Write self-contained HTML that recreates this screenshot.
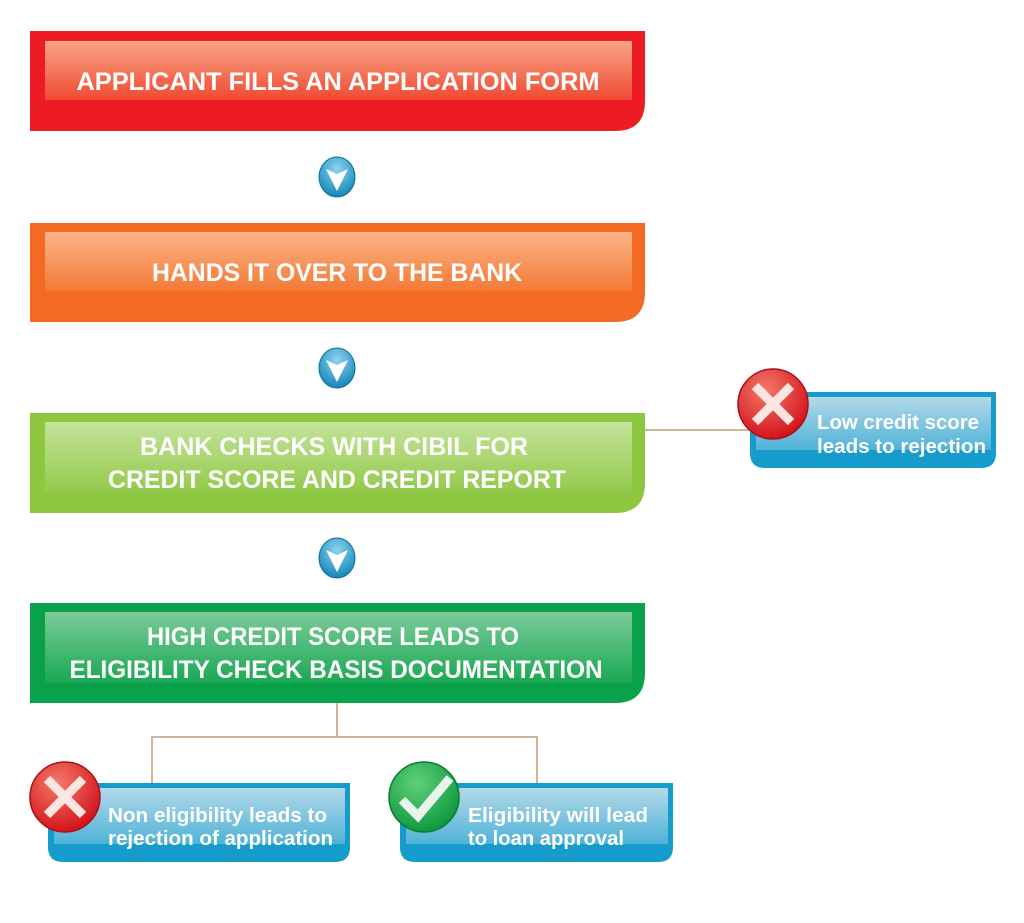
<!DOCTYPE html>
<html><head><meta charset="utf-8"><style>
html,body{margin:0;padding:0;background:#fff;width:1024px;height:923px;overflow:hidden}
svg text{font-family:"Liberation Sans",sans-serif;font-weight:bold;fill:#fff}
</style></head><body>
<svg width="1024" height="923" viewBox="0 0 1024 923" xmlns="http://www.w3.org/2000/svg">
<defs>
<linearGradient id="gr" x1="0" y1="0" x2="0" y2="1"><stop offset="0" stop-color="#f7a585"/><stop offset="1" stop-color="#f04a32"/></linearGradient>
<linearGradient id="go" x1="0" y1="0" x2="0" y2="1"><stop offset="0" stop-color="#fab487"/><stop offset="1" stop-color="#f37a36"/></linearGradient>
<linearGradient id="gl" x1="0" y1="0" x2="0" y2="1"><stop offset="0" stop-color="#c4e39a"/><stop offset="1" stop-color="#93c94a"/></linearGradient>
<linearGradient id="gd" x1="0" y1="0" x2="0" y2="1"><stop offset="0" stop-color="#7ccb98"/><stop offset="1" stop-color="#1aa854"/></linearGradient>
<linearGradient id="gb" x1="0" y1="0" x2="0" y2="1"><stop offset="0" stop-color="#b3d9e8"/><stop offset="1" stop-color="#4fb3d8"/></linearGradient>
<radialGradient id="ga" cx="0.5" cy="0.3" r="0.7"><stop offset="0" stop-color="#8fd3ee"/><stop offset="1" stop-color="#1386b8"/></radialGradient>
<radialGradient id="gx" cx="0.4" cy="0.3" r="0.7"><stop offset="0" stop-color="#f47a6a"/><stop offset="1" stop-color="#d3141c"/></radialGradient>
<radialGradient id="gc" cx="0.4" cy="0.3" r="0.7"><stop offset="0" stop-color="#5fcf7a"/><stop offset="1" stop-color="#0f9a40"/></radialGradient>
</defs>

<!-- connectors -->
<g stroke="#cbb89a" stroke-width="2" fill="none">
<line x1="645" y1="430" x2="750" y2="430"/>
<polyline points="337,703 337,737"/>
<polyline points="152,783 152,737 537,737 537,783"/>
</g>

<!-- main boxes -->
<path d="M30 31 H645 V101 Q645 131 615 131 H30 Z" fill="#ed1c24"/>
<rect x="45" y="41" width="587" height="59" fill="url(#gr)"/>
<text x="338" y="90" font-size="25" text-anchor="middle" textLength="523" lengthAdjust="spacingAndGlyphs">APPLICANT FILLS AN APPLICATION FORM</text>

<path d="M30 223 H645 V292 Q645 322 615 322 H30 Z" fill="#f26a23"/>
<rect x="45" y="232" width="587" height="59" fill="url(#go)"/>
<text x="337" y="281" font-size="25" text-anchor="middle" textLength="370" lengthAdjust="spacingAndGlyphs">HANDS IT OVER TO THE BANK</text>

<path d="M30 413 H645 V483 Q645 513 615 513 H30 Z" fill="#8dc63f"/>
<rect x="45" y="422" width="587" height="71" fill="url(#gl)"/>
<text x="334" y="455" font-size="25" text-anchor="middle" textLength="388" lengthAdjust="spacingAndGlyphs">BANK CHECKS WITH CIBIL FOR</text>
<text x="337" y="488" font-size="25" text-anchor="middle" textLength="458" lengthAdjust="spacingAndGlyphs">CREDIT SCORE AND CREDIT REPORT</text>

<path d="M30 603 H645 V673 Q645 703 615 703 H30 Z" fill="#0aa14b"/>
<rect x="45" y="612" width="587" height="71" fill="url(#gd)"/>
<text x="333" y="645" font-size="25" text-anchor="middle" textLength="372" lengthAdjust="spacingAndGlyphs">HIGH CREDIT SCORE LEADS TO</text>
<text x="336" y="678" font-size="25" text-anchor="middle" textLength="533" lengthAdjust="spacingAndGlyphs">ELIGIBILITY CHECK BASIS DOCUMENTATION</text>

<!-- arrows -->
<g>
<ellipse cx="337" cy="177" rx="18" ry="20" fill="url(#ga)" stroke="#0f6f99" stroke-width="1"/>
<path d="M326 169 L337 174 L348 169 L337 191 Z" fill="#fff"/>
<ellipse cx="337" cy="368" rx="18" ry="20" fill="url(#ga)" stroke="#0f6f99" stroke-width="1"/>
<path d="M326 360 L337 365 L348 360 L337 382 Z" fill="#fff"/>
<ellipse cx="337" cy="558" rx="18" ry="20" fill="url(#ga)" stroke="#0f6f99" stroke-width="1"/>
<path d="M326 550 L337 555 L348 550 L337 572 Z" fill="#fff"/>
</g>

<!-- callouts -->
<path d="M750 392 H996 V453 Q996 468 981 468 H765 Q750 468 750 453 Z" fill="#159bcc"/>
<rect x="756" y="397" width="235" height="53" fill="url(#gb)"/>
<text x="817" y="429" font-size="20" textLength="162" lengthAdjust="spacingAndGlyphs">Low credit score</text>
<text x="817" y="453" font-size="20" textLength="169" lengthAdjust="spacingAndGlyphs">leads to rejection</text>
<circle cx="773" cy="404" r="35" fill="url(#gx)" stroke="#a8101a" stroke-width="1.5"/>
<path d="M755 386 L791 422 M791 386 L755 422" stroke="#fde6e0" stroke-width="9" stroke-linecap="butt"/>

<path d="M48 783 H350 V847 Q350 862 335 862 H63 Q48 862 48 847 Z" fill="#159bcc"/>
<rect x="54" y="788" width="291" height="56" fill="url(#gb)"/>
<text x="108" y="822" font-size="20" textLength="219" lengthAdjust="spacingAndGlyphs">Non eligibility leads to</text>
<text x="108" y="845" font-size="20" textLength="225" lengthAdjust="spacingAndGlyphs">rejection of application</text>
<circle cx="65" cy="797" r="35" fill="url(#gx)" stroke="#a8101a" stroke-width="1.5"/>
<path d="M47 779 L83 815 M83 779 L47 815" stroke="#fde6e0" stroke-width="9"/>

<path d="M400 783 H673 V847 Q673 862 658 862 H415 Q400 862 400 847 Z" fill="#159bcc"/>
<rect x="406" y="788" width="262" height="56" fill="url(#gb)"/>
<text x="468" y="822" font-size="20" textLength="180" lengthAdjust="spacingAndGlyphs">Eligibility will lead</text>
<text x="468" y="845" font-size="20" textLength="156" lengthAdjust="spacingAndGlyphs">to loan approval</text>
<circle cx="424" cy="797" r="35" fill="url(#gc)" stroke="#0b7a33" stroke-width="1.5"/>
<path d="M402 800 L418 816 L450 778" stroke="#e8f6e8" stroke-width="9" fill="none"/>
</svg>
</body></html>
